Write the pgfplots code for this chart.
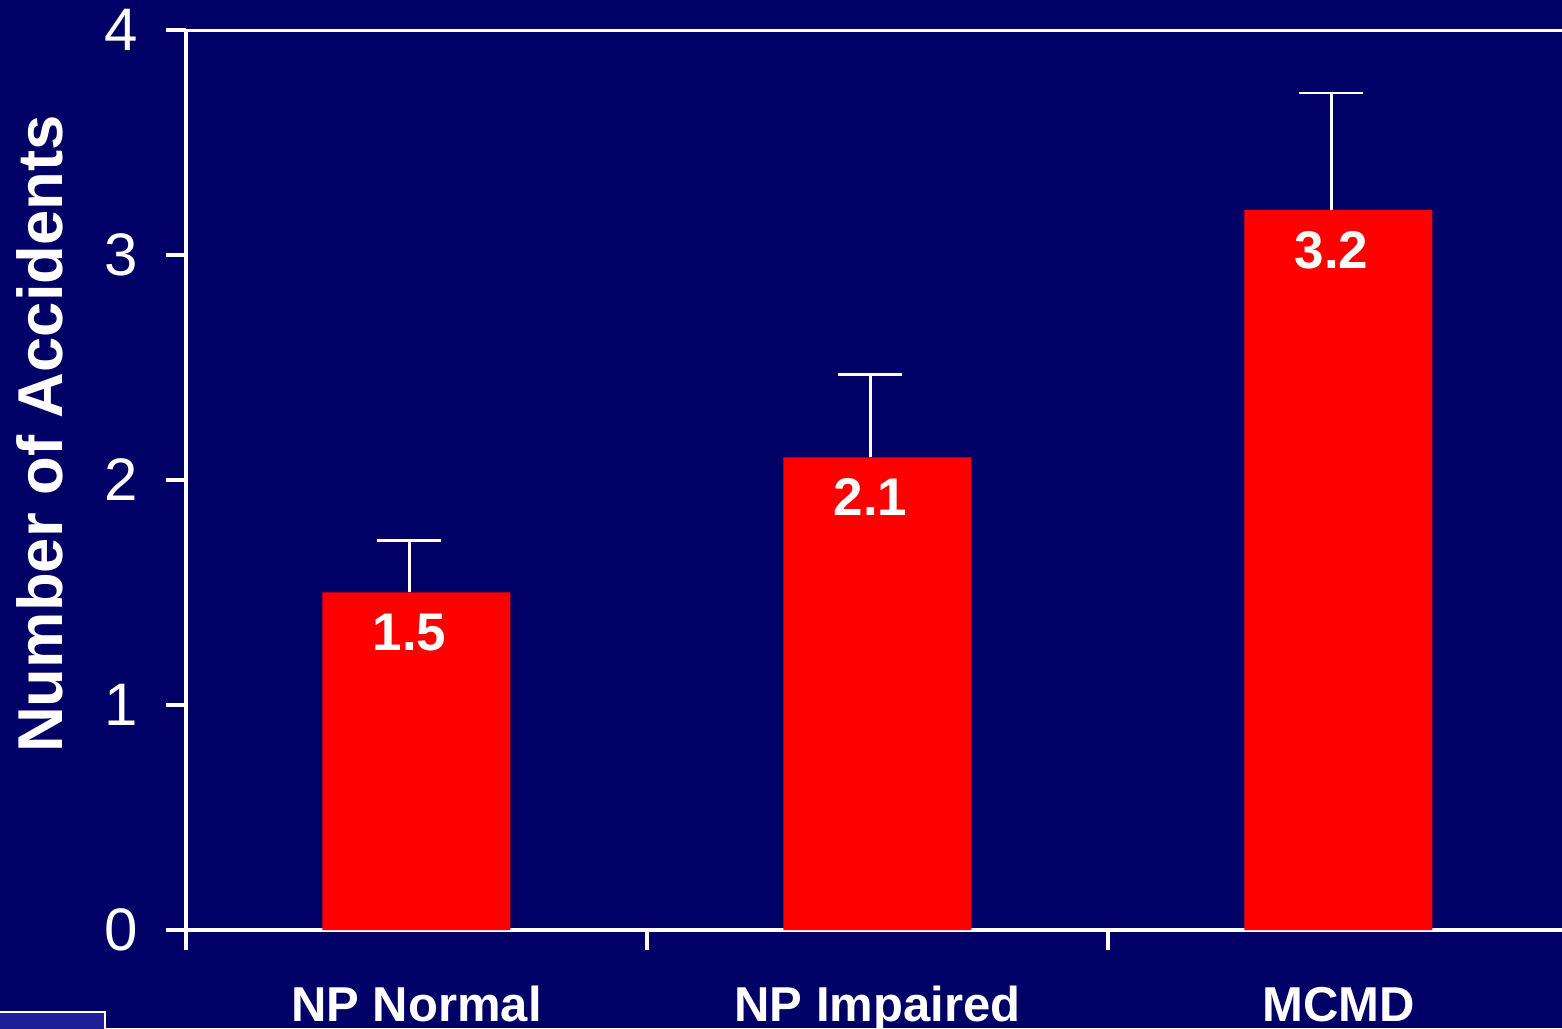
\documentclass[border=0pt]{standalone}
\usepackage{fontspec}
\setmainfont{Liberation Sans}
\usepackage{pgfplots}
\pgfplotsset{compat=1.18}
\definecolor{bg}{RGB}{0,0,102}
\definecolor{barred}{RGB}{255,0,0}
\definecolor{logo}{RGB}{30,30,150}
\begin{document}
\begin{tikzpicture}
\useasboundingbox (0,0) rectangle (781pt,514pt);
\fill[bg] (0,0) rectangle (781pt,514pt);
\begin{scope}
\clip (0,0) rectangle (781pt,514pt);
\begin{axis}[
  at={(93pt,49pt)}, anchor=south west,
  width=688pt, height=450pt, scale only axis,
  xmin=-0.5, xmax=2.485, ymin=0, ymax=4,
  axis x line*=bottom, axis y line*=left,
  axis line style={white, line width=1.8pt, -},
  tick style={white, line width=1.8pt},
  major tick length=10pt, tick align=outside,
  ytick={0,1,2,3,4},
  xtick={-0.5,0.5,1.5}, xticklabels={},
  extra x ticks={0,1,2},
  extra x tick labels={NP Normal,NP Impaired,MCMD},
  extra x tick style={major tick length=0pt, tick style={draw=none},
     xticklabel style={anchor=base, inner sep=0pt, yshift=-45.5pt, text=white, font=\bfseries\fontsize{24.5}{24.5}\selectfont}},
  yticklabel style={text=white, font=\fontsize{30}{30}\selectfont, inner sep=0pt, xshift=-14pt},
  /pgf/number format/assume math mode=true,
  ybar, bar width=94pt,
  nodes near coords={\pgfmathprintnumber[fixed,fixed zerofill,precision=1]{\pgfplotspointmeta}},
  every node near coord/.append style={anchor=north, yshift=-10.5pt, xshift=-3.5pt, inner sep=0pt, text=white, font=\bfseries\fontsize{26.5}{26.5}\selectfont},
]
\addplot[fill=barred, draw=none,
  error bars/.cd, y dir=plus, y explicit,
  error bar style={white, line width=1.3pt, xshift=-3.5pt},
  error mark options={white, rotate=90, mark size=16pt, line width=1.3pt, xshift=-3.5pt}]
  coordinates {(0,1.5) +- (0,0.23) (1,2.1) +- (0,0.37) (2,3.2) +- (0,0.52)};
\draw[white, line width=1.8pt] (rel axis cs:0,1) -- (rel axis cs:1,1);
\end{axis}
\end{scope}
\node[rotate=90, anchor=base, text=white, inner sep=0pt, font=\bfseries\fontsize{31.7}{31.7}\selectfont] at (31pt,297pt) {Number of Accidents};
\draw[white, line width=0.8pt, fill=logo] (-1pt,-1pt) rectangle (52.5pt,8pt);
\end{tikzpicture}
\end{document}
